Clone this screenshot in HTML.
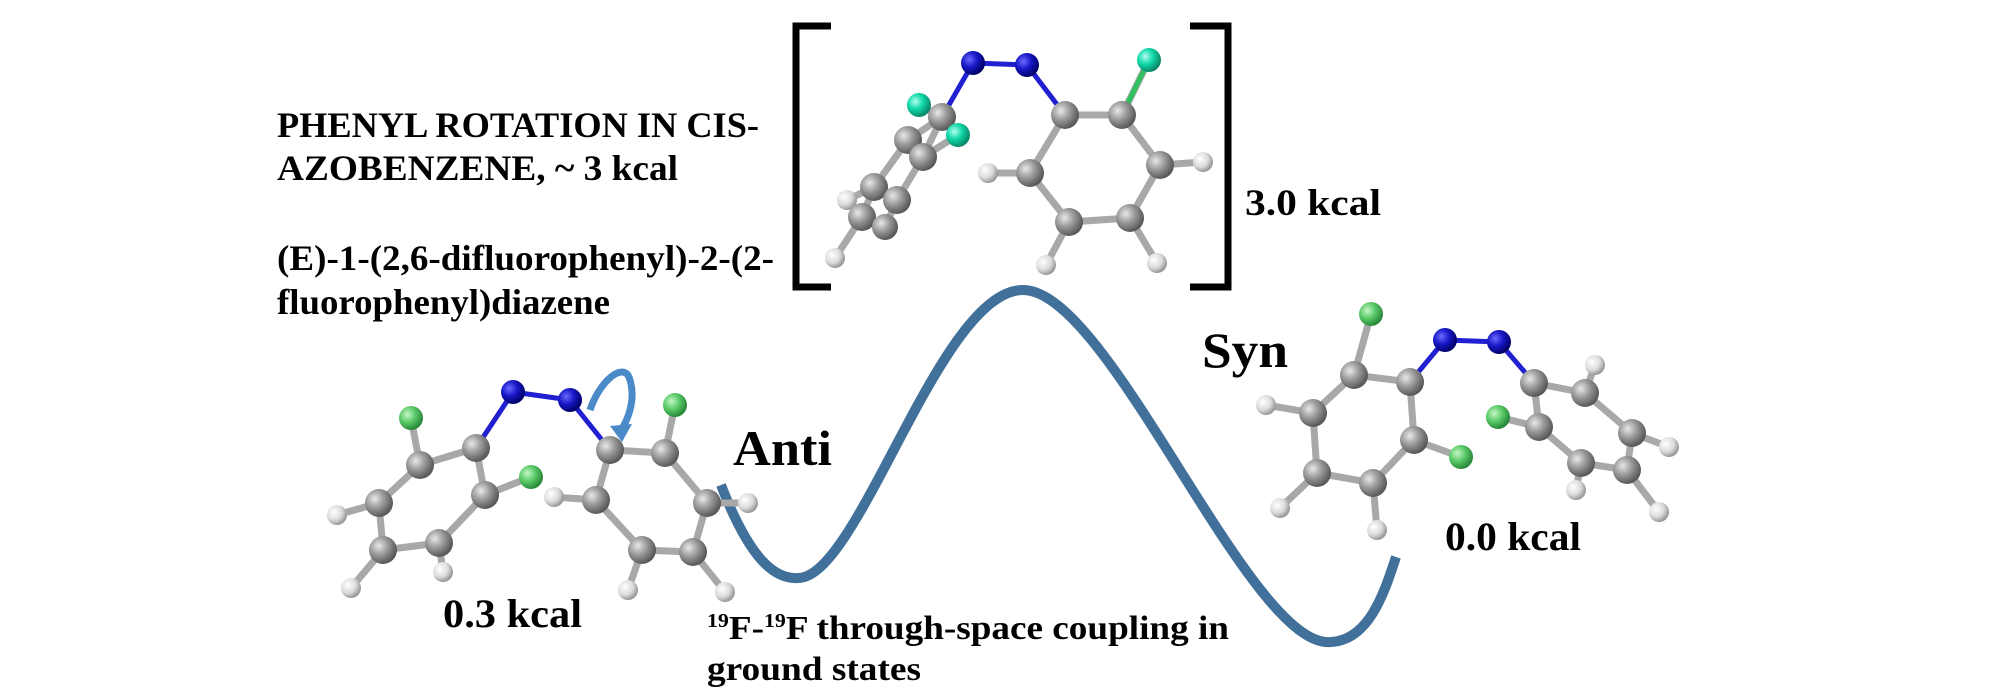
<!DOCTYPE html>
<html><head><meta charset="utf-8"><style>
html,body{margin:0;padding:0;background:#fff;}
svg{display:block;}
text{font-family:"Liberation Serif",serif;font-weight:bold;fill:#000;}
</style></head><body>
<svg width="2000" height="700" viewBox="0 0 2000 700" xmlns="http://www.w3.org/2000/svg">
<defs>
<radialGradient id="gC" cx="35%" cy="35%" r="65%"><stop offset="0" stop-color="#e8e8e8"/><stop offset="0.5" stop-color="#9a9a9a"/><stop offset="1" stop-color="#5a5a5a"/></radialGradient>
<radialGradient id="gH" cx="35%" cy="35%" r="65%"><stop offset="0" stop-color="#ffffff"/><stop offset="0.6" stop-color="#dcdcdc"/><stop offset="1" stop-color="#9a9a9a"/></radialGradient>
<radialGradient id="gN" cx="35%" cy="35%" r="65%"><stop offset="0" stop-color="#6a6aff"/><stop offset="0.5" stop-color="#1818c8"/><stop offset="1" stop-color="#00006a"/></radialGradient>
<radialGradient id="gF" cx="35%" cy="35%" r="65%"><stop offset="0" stop-color="#c8f5c8"/><stop offset="0.5" stop-color="#5ccc6a"/><stop offset="1" stop-color="#2a8a3a"/></radialGradient>
<radialGradient id="gF2" cx="35%" cy="35%" r="65%"><stop offset="0" stop-color="#b0fff0"/><stop offset="0.5" stop-color="#10d8a8"/><stop offset="1" stop-color="#0a8a6a"/></radialGradient>
</defs>

<text x="277" y="137" font-size="36" textLength="482" lengthAdjust="spacingAndGlyphs">PHENYL ROTATION IN CIS-</text>
<text x="277" y="180" font-size="36" textLength="401" lengthAdjust="spacingAndGlyphs">AZOBENZENE, ~ 3 kcal</text>
<text x="277" y="270" font-size="36" textLength="497" lengthAdjust="spacingAndGlyphs">(E)-1-(2,6-difluorophenyl)-2-(2-</text>
<text x="277" y="314" font-size="36" textLength="333" lengthAdjust="spacingAndGlyphs">fluorophenyl)diazene</text>
<text x="1245" y="215" font-size="37" textLength="136" lengthAdjust="spacingAndGlyphs">3.0 kcal</text>
<text x="733" y="465" font-size="50" textLength="99" lengthAdjust="spacingAndGlyphs">Anti</text>
<text x="1202" y="367" font-size="50" textLength="86" lengthAdjust="spacingAndGlyphs">Syn</text>
<text x="443" y="627" font-size="40" textLength="139" lengthAdjust="spacingAndGlyphs">0.3 kcal</text>
<text x="1445" y="550" font-size="40" textLength="136" lengthAdjust="spacingAndGlyphs">0.0 kcal</text>
<text x="707" y="639" font-size="34" textLength="522" lengthAdjust="spacingAndGlyphs"><tspan font-size="20" dy="-12">19</tspan><tspan dy="12">F-</tspan><tspan font-size="20" dy="-12">19</tspan><tspan dy="12">F through-space coupling in</tspan></text>
<text x="707" y="680" font-size="34" textLength="214" lengthAdjust="spacingAndGlyphs">ground states</text>

<path d="M831,26 H796 V287 H831" fill="none" stroke="#000" stroke-width="7"/>
<path d="M1190,26 H1228 V287 H1190" fill="none" stroke="#000" stroke-width="7"/>

<path d="M721,485 C750,560 775,580 799,578 C860,575 940,290 1023,290 C1110,290 1250,650 1331,642 C1370,640 1385,590 1396,557" fill="none" stroke="#41709a" stroke-width="10"/>

<g stroke="#a8a8a8" stroke-width="7" stroke-linecap="round" fill="none">
<path d="M1065,115 L1122,115 L1160,165 L1130,218 L1069,222 L1030,173 Z"/>
<path d="M1122,115 L1149,60 M1160,165 L1203,162 M1030,173 L988,173 M1069,222 L1046,265 M1130,218 L1157,263"/>
<path d="M942,117 L908,140 L874,187 L862,217 L885,227 L897,200 L923,157 Z M942,117 L919,105 M923,157 L958,135 M862,217 L835,258 M874,187 L847,200"/>
<path d="M476,448 L420,465 L379,503 L383,550 L439,543 L485,495 Z M420,465 L411,418 M485,495 L531,477 M379,503 L337,515 M383,550 L351,588 M439,543 L443,572"/>
<path d="M610,450 L665,453 L707,503 L693,552 L642,550 L596,500 Z M665,453 L675,405 M707,503 L748,503 M693,552 L725,592 M642,550 L628,590 M596,500 L554,497"/>
<path d="M1354,375 L1410,382 L1414,440 L1373,483 L1317,473 L1313,413 Z M1354,375 L1371,314 M1414,440 L1461,457 M1313,413 L1266,405 M1317,473 L1280,508 M1373,483 L1377,530"/>
<path d="M1534,383 L1585,393 L1632,433 L1627,470 L1581,463 L1539,427 Z M1539,427 L1498,417 M1585,393 L1595,365 M1632,433 L1669,447 M1581,463 L1576,490 M1627,470 L1659,512"/>
</g>
<g stroke="#2020d0" stroke-width="5" stroke-linecap="round" fill="none">
<path d="M973,63 L1027,65 M973,63 L942,117 M1027,65 L1065,115"/>
<path d="M513,392 L570,400 M513,392 L476,448 M570,400 L610,450"/>
<path d="M1445,340 L1499,342 M1445,340 L1410,382 M1499,342 L1534,383"/>
</g>
<g stroke="#30c060" stroke-width="5" fill="none"><path d="M1122,115 L1149,60"/></g>

<path d="M590,410 C600,380 625,360 630,380 C636,400 628,420 620,432" fill="none" stroke="#4a8ac8" stroke-width="7"/>
<path d="M610,426 L622,442 L632,424 Z" fill="#4a8ac8"/>

<g>
<circle cx="973" cy="63" r="12" fill="url(#gN)"/><circle cx="1027" cy="65" r="12" fill="url(#gN)"/>
<circle cx="1149" cy="60" r="12" fill="url(#gF2)"/>
<circle cx="1065" cy="115" r="14" fill="url(#gC)"/><circle cx="1122" cy="115" r="14" fill="url(#gC)"/><circle cx="1160" cy="165" r="14" fill="url(#gC)"/><circle cx="1130" cy="218" r="14" fill="url(#gC)"/><circle cx="1069" cy="222" r="14" fill="url(#gC)"/><circle cx="1030" cy="173" r="14" fill="url(#gC)"/>
<circle cx="1203" cy="162" r="10" fill="url(#gH)"/><circle cx="988" cy="173" r="10" fill="url(#gH)"/><circle cx="1046" cy="265" r="10" fill="url(#gH)"/><circle cx="1157" cy="263" r="10" fill="url(#gH)"/>
<circle cx="847" cy="200" r="10" fill="url(#gH)"/><circle cx="835" cy="258" r="10" fill="url(#gH)"/>
<circle cx="862" cy="217" r="14" fill="url(#gC)"/><circle cx="874" cy="187" r="14" fill="url(#gC)"/><circle cx="885" cy="227" r="13" fill="url(#gC)"/><circle cx="897" cy="200" r="14" fill="url(#gC)"/>
<circle cx="908" cy="140" r="14" fill="url(#gC)"/><circle cx="923" cy="157" r="14" fill="url(#gC)"/>
<circle cx="919" cy="105" r="12" fill="url(#gF2)"/><circle cx="942" cy="117" r="14" fill="url(#gC)"/><circle cx="958" cy="135" r="12" fill="url(#gF2)"/>
<circle cx="513" cy="392" r="12" fill="url(#gN)"/><circle cx="570" cy="400" r="12" fill="url(#gN)"/>
<circle cx="411" cy="418" r="12" fill="url(#gF)"/><circle cx="675" cy="405" r="12" fill="url(#gF)"/><circle cx="531" cy="477" r="12" fill="url(#gF)"/>
<circle cx="476" cy="448" r="14" fill="url(#gC)"/><circle cx="420" cy="465" r="14" fill="url(#gC)"/><circle cx="379" cy="503" r="14" fill="url(#gC)"/><circle cx="383" cy="550" r="14" fill="url(#gC)"/><circle cx="439" cy="543" r="14" fill="url(#gC)"/><circle cx="485" cy="495" r="14" fill="url(#gC)"/>
<circle cx="337" cy="515" r="10" fill="url(#gH)"/><circle cx="351" cy="588" r="10" fill="url(#gH)"/><circle cx="443" cy="572" r="10" fill="url(#gH)"/><circle cx="554" cy="497" r="10" fill="url(#gH)"/>
<circle cx="610" cy="450" r="14" fill="url(#gC)"/><circle cx="665" cy="453" r="14" fill="url(#gC)"/><circle cx="707" cy="503" r="14" fill="url(#gC)"/><circle cx="693" cy="552" r="14" fill="url(#gC)"/><circle cx="642" cy="550" r="14" fill="url(#gC)"/><circle cx="596" cy="500" r="14" fill="url(#gC)"/>
<circle cx="748" cy="503" r="10" fill="url(#gH)"/><circle cx="725" cy="592" r="10" fill="url(#gH)"/><circle cx="628" cy="590" r="10" fill="url(#gH)"/>
<circle cx="1445" cy="340" r="12" fill="url(#gN)"/><circle cx="1499" cy="342" r="12" fill="url(#gN)"/>
<circle cx="1371" cy="314" r="12" fill="url(#gF)"/><circle cx="1461" cy="457" r="12" fill="url(#gF)"/><circle cx="1498" cy="417" r="12" fill="url(#gF)"/>
<circle cx="1354" cy="375" r="14" fill="url(#gC)"/><circle cx="1410" cy="382" r="14" fill="url(#gC)"/><circle cx="1414" cy="440" r="14" fill="url(#gC)"/><circle cx="1373" cy="483" r="14" fill="url(#gC)"/><circle cx="1317" cy="473" r="14" fill="url(#gC)"/><circle cx="1313" cy="413" r="14" fill="url(#gC)"/>
<circle cx="1266" cy="405" r="10" fill="url(#gH)"/><circle cx="1280" cy="508" r="10" fill="url(#gH)"/><circle cx="1377" cy="530" r="10" fill="url(#gH)"/>
<circle cx="1534" cy="383" r="14" fill="url(#gC)"/><circle cx="1585" cy="393" r="14" fill="url(#gC)"/><circle cx="1632" cy="433" r="14" fill="url(#gC)"/><circle cx="1627" cy="470" r="14" fill="url(#gC)"/><circle cx="1581" cy="463" r="14" fill="url(#gC)"/><circle cx="1539" cy="427" r="14" fill="url(#gC)"/>
<circle cx="1595" cy="365" r="10" fill="url(#gH)"/><circle cx="1669" cy="447" r="10" fill="url(#gH)"/><circle cx="1576" cy="490" r="10" fill="url(#gH)"/><circle cx="1659" cy="512" r="10" fill="url(#gH)"/>
</g>
</svg>
</body></html>
